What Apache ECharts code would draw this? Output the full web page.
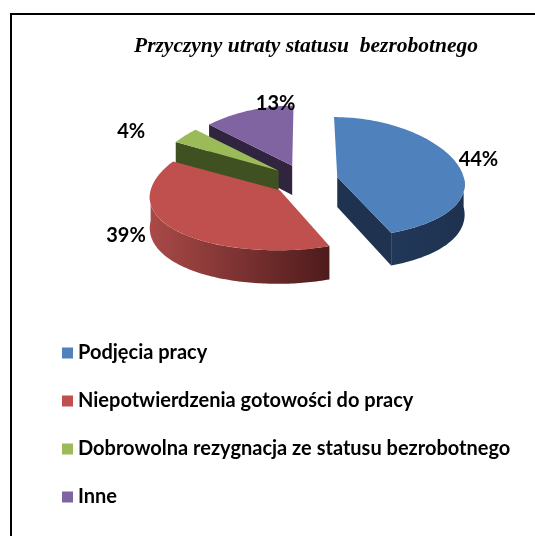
<!DOCTYPE html>
<html><head><meta charset="utf-8">
<script src="https://cdn.jsdelivr.net/npm/echarts@6/dist/echarts.min.js"></script>
<style>html,body{margin:0;padding:0;background:#fff}#c{width:535px;height:536px}</style>
</head><body><div id="c"></div>
<script>
// ---- data ----
const titleText = 'Przyczyny utraty statusu  bezrobotnego';
const categories = ['Podjęcia pracy', 'Niepotwierdzenia gotowości do pracy', 'Dobrowolna rezygnacja ze statusu bezrobotnego', 'Inne'];
const values = [44, 39, 4, 13];
const valueLabels = ['44%', '39%', '4%', '13%'];

// ---- styles / layout ----
const topColors = ['#4F81BD', '#C0504D', '#9BBB59', '#8064A2'];
const wallColors = [['#22385A', '#1E324F'], ['#A94A48', '#4E1B1B'], ['#4B5F25', '#3B4B1D'], ['#3B2D50', '#2B2039']];
const faceColors = ['#1F3350', '#5E2422', '#3F5021', '#30243F'];
const drawOrder = [3, 2, 0, 1];
const pie = { cx: 305, cy: 180, rx: 127, ry: 60, depth: 30, explode: 33, persp: 0.1, labelRx: 200, labelRy: 86 };
const labelNudge = [[-23, -4], [-29, -1], [-12, 2], [50, 2]];
const FONT_SANS = 'Lato, "Liberation Sans", sans-serif';

const total = values.reduce((a, b) => a + b, 0);
const starts = [];
values.reduce((acc, v, i) => { starts[i] = acc; return acc + v; }, 0);

// ground point (gx, gy) at depth h -> screen, with simple perspective
function proj(gx, gy, h) {
  const s = 1 + pie.persp * (gy - pie.cy) / pie.ry;
  return [pie.cx + (gx - pie.cx) * s, gy + (h || 0) * s];
}
function rim(ax, ay, th, h) {
  return proj(ax + pie.rx * Math.sin(th), ay - pie.ry * Math.cos(th), h);
}

function renderSlice(params, api) {
  const s = api.value(0), v = api.value(1), i = api.value(2);
  const a0 = s / total * Math.PI * 2, a1 = (s + v) / total * Math.PI * 2;
  const m = (a0 + a1) / 2;
  const ax = pie.cx + pie.explode * Math.sin(m);
  const ay = pie.cy - pie.explode * (pie.ry / pie.rx) * Math.cos(m);
  const D = pie.depth;
  const A = proj(ax, ay, 0), AB = proj(ax, ay, D);
  const children = [];
  if (Math.sin(a0) < -1e-6) {
    children.push({ type: 'polygon', shape: { points: [A, rim(ax, ay, a0), rim(ax, ay, a0, D), AB] }, style: { fill: faceColors[i] } });
  }
  if (Math.sin(a1) > 1e-6) {
    children.push({ type: 'polygon', shape: { points: [A, rim(ax, ay, a1), rim(ax, ay, a1, D), AB] }, style: { fill: faceColors[i] } });
  }
  const w0 = Math.max(a0, Math.PI / 2), w1 = Math.min(a1, Math.PI * 1.5);
  if (w1 > w0) {
    const n = Math.max(4, Math.ceil((w1 - w0) / 0.02));
    const topPts = [], botPts = [];
    for (let k = 0; k <= n; k++) {
      const t = w0 + (w1 - w0) * k / n;
      topPts.push(rim(ax, ay, t));
      botPts.push(rim(ax, ay, t, D));
    }
    children.push({
      type: 'polygon', shape: { points: topPts.concat(botPts.reverse()) },
      style: { fill: { type: 'linear', x: 0, y: 0, x2: 1, y2: 0, colorStops: [{ offset: 0, color: wallColors[i][0] }, { offset: 1, color: wallColors[i][1] }] } }
    });
  }
  const n2 = Math.max(4, Math.ceil((a1 - a0) / 0.02));
  const pts = [A];
  for (let k = 0; k <= n2; k++) pts.push(rim(ax, ay, a0 + (a1 - a0) * k / n2));
  children.push({ type: 'polygon', shape: { points: pts }, style: { fill: topColors[i] } });
  const lx = pie.cx + pie.labelRx * Math.sin(m) + labelNudge[i][0];
  const ly = pie.cy - pie.labelRy * Math.cos(m) + labelNudge[i][1];
  children.push({ type: 'text', style: { text: valueLabels[i], x: lx, y: ly, align: 'center', verticalAlign: 'middle', font: 'bold 20px ' + FONT_SANS, fill: '#000' }, z2: 10 });
  return { type: 'group', children: children };
}

const series = drawOrder.map(i => ({
  type: 'custom',
  name: categories[i],
  coordinateSystem: 'none',
  renderItem: renderSlice,
  itemStyle: { color: topColors[i] },
  data: [[starts[i], values[i], i]],
  silent: true
}));

const chart = echarts.init(document.getElementById('c'), null, { renderer: 'canvas' });
chart.setOption({
  animation: false,
  backgroundColor: '#fff',
  title: {
    text: titleText, left: 134, top: 35, padding: 0,
    textStyle: { fontFamily: '"Liberation Serif", serif', fontStyle: 'italic', fontWeight: 'bold', fontSize: 21.5, color: '#000' }
  },
  legend: {
    data: categories, orient: 'vertical', left: 62, top: 342, padding: 0,
    icon: 'rect', itemWidth: 11, itemHeight: 11, itemGap: 26, selectedMode: false,
    textStyle: { fontFamily: FONT_SANS, fontWeight: 'bold', fontSize: 20, color: '#000', lineHeight: 22 }
  },
  graphic: [{
    type: 'polyline', silent: true,
    shape: { points: [[11, 536], [11, 14], [535, 14]] },
    style: { stroke: '#000', lineWidth: 2, fill: null }
  }],
  series: series
});
</script>
</body></html>
